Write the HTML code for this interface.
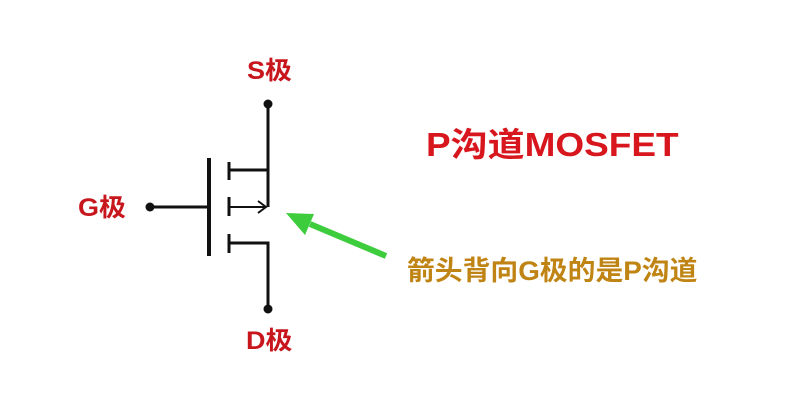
<!DOCTYPE html>
<html><head><meta charset="utf-8"><style>
body{margin:0;background:#fff;width:800px;height:416px;overflow:hidden;position:relative;font-family:"Liberation Sans","Noto Sans CJK SC",sans-serif;}
.t{position:absolute;font-weight:bold;white-space:nowrap;line-height:1;transform-origin:0 0;}
</style></head><body>
<svg width="800" height="416" style="position:absolute;left:0;top:0">
<g stroke="#111" fill="none" stroke-width="3">
<line x1="268" y1="104" x2="268" y2="207"/>
<line x1="150" y1="207" x2="210" y2="207"/>
<line x1="209" y1="158" x2="209" y2="256" stroke-width="4"/>
<line x1="229" y1="162" x2="229" y2="180"/>
<line x1="229" y1="197" x2="229" y2="216"/>
<line x1="229" y1="234" x2="229" y2="253"/>
<line x1="229" y1="170" x2="268" y2="170"/>
<line x1="229" y1="207" x2="266" y2="207" stroke-width="2"/>
<polyline points="258,201 266,207 258,213" stroke-width="2"/>
<polyline points="229,243 268,243 268,309"/>
</g>
<circle cx="268" cy="104" r="4.5" fill="#111"/>
<circle cx="268" cy="309" r="4.5" fill="#111"/>
<circle cx="150" cy="207" r="4.5" fill="#111"/>
<line x1="386" y1="256" x2="310" y2="224" stroke="#3ccc3c" stroke-width="6"/>
<polygon points="286,213 314,214 305,235" fill="#3ccc3c"/>
</svg>
<div class="t" style="left:247px;top:59px;font-size:25px;color:#c8161d;transform:scaleX(1.08)">S极</div>
<div class="t" style="left:78px;top:196px;font-size:25px;color:#c8161d;transform:scaleX(1.08)">G极</div>
<div class="t" style="left:246px;top:329px;font-size:25px;color:#c8161d;transform:scaleX(1.08)">D极</div>
<div class="t" style="left:426px;top:128px;font-size:33px;color:#d8161d;transform:scaleX(1.12)">P沟道MOSFET</div>
<div class="t" style="left:407px;top:258px;font-size:27px;color:#c08414;transform:scaleX(1.03)">箭头背向G极的是P沟道</div>
</body></html>
